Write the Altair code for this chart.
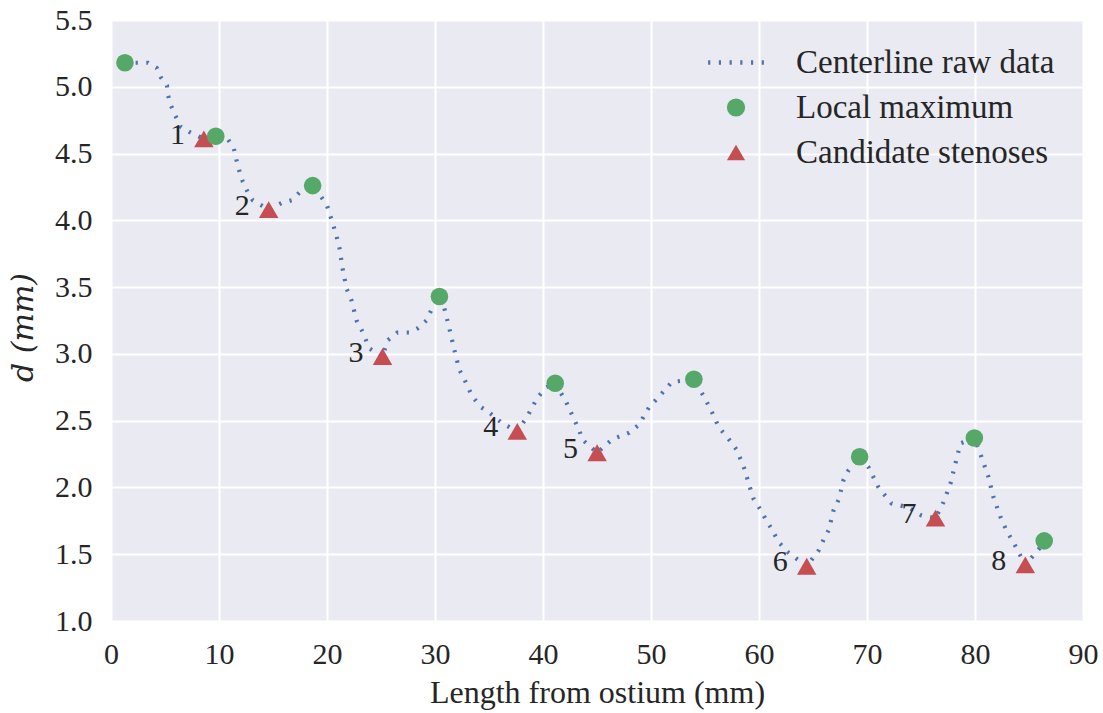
import altair as alt
import pandas as pd

# Centerline diameter profile along the vessel (mm)
line_x = [1.29, 2.40, 3.42, 4.25, 4.62, 5.18, 5.27, 5.55, 5.92, 6.47, 7.30, 8.60,
          9.70, 10.72, 11.37, 11.65, 11.92, 12.20, 12.66, 13.12, 14.60, 15.80, 16.73,
          17.47, 18.67, 19.96, 20.52, 20.89, 21.16, 21.44, 21.81, 22.27, 22.74, 23.20,
          23.94, 25.14, 25.60, 26.52, 27.63, 28.37, 29.21, 29.67, 30.41, 30.87, 31.33,
          31.79, 32.26, 32.72, 33.46, 34.29, 35.03, 36.23, 37.62, 38.54, 39.46, 40.30,
          41.13, 42.14, 42.88, 43.35, 43.62, 45.01, 46.40, 47.97, 48.89, 49.82, 50.74,
          51.94, 53.97, 54.90, 55.55, 56.28, 57.21, 57.95, 58.60, 59.24, 59.52, 60.17,
          60.63, 61.09, 61.83, 62.75, 64.42, 65.53, 65.99, 66.45, 66.91, 67.38, 67.84,
          68.30, 69.32, 70.15, 71.07, 72.27, 73.84, 75.05, 76.34, 77.08, 77.73, 78.19,
          78.65, 79.94, 80.59, 81.24, 81.70, 82.35, 82.90, 83.55, 84.66, 86.04, 86.41]
line_y = [5.18, 5.18, 5.18, 5.14, 5.07, 5.01, 4.94, 4.86, 4.79, 4.70, 4.66, 4.61,
          4.63, 4.62, 4.54, 4.44, 4.36, 4.29, 4.21, 4.15, 4.08, 4.13, 4.15,
          4.21, 4.26, 4.12, 3.98, 3.88, 3.79, 3.64, 3.49, 3.40, 3.25, 3.18,
          3.04, 2.98, 3.10, 3.16, 3.16, 3.19, 3.25, 3.33, 3.43, 3.34, 3.19,
          3.03, 2.88, 2.81, 2.68, 2.60, 2.56, 2.48, 2.42, 2.53, 2.67, 2.75,
          2.78, 2.64, 2.51, 2.43, 2.36, 2.26, 2.36, 2.41, 2.47, 2.60, 2.68,
          2.79, 2.81, 2.68, 2.58, 2.45, 2.36, 2.28, 2.15, 1.98, 1.91, 1.83,
          1.76, 1.70, 1.59, 1.51, 1.41, 1.53, 1.61, 1.68, 1.83, 1.91, 2.06,
          2.13, 2.23, 2.15, 2.00, 1.88, 1.85, 1.79, 1.77, 1.89, 2.03, 2.18,
          2.33, 2.37, 2.23, 2.08, 1.93, 1.78, 1.68, 1.59, 1.42, 1.55, 1.60]

# Local maxima of the profile
max_x = [1.29, 9.70, 18.67, 30.41, 41.13, 53.97, 69.32, 79.94, 86.41]
max_y = [5.18, 4.63, 4.26, 3.43, 2.78, 2.81, 2.23, 2.37, 1.60]

# Candidate stenoses (local minima) and their numbering
sten_x = [8.60, 14.60, 25.14, 37.62, 45.01, 64.42, 76.34, 84.66]
sten_y = [4.61, 4.08, 2.98, 2.42, 2.26, 1.41, 1.77, 1.42]
sten_labels = ["1", "2", "3", "4", "5", "6", "7", "8"]

x_ticks = [0, 10, 20, 30, 40, 50, 60, 70, 80, 90]
y_ticks = [1.0, 1.5, 2.0, 2.5, 3.0, 3.5, 4.0, 4.5, 5.0, 5.5]

series_names = ["Centerline raw data", "Local maximum", "Candidate stenoses"]
series_colors = ["#4C72B0", "#55A868", "#C44E52"]

# Legend swatch for the dotted line: a row of short dashes in symbol units
dot_centers = [-2.95, -1.77, -0.59, 0.59, 1.77, 2.95]
dotted_path = " ".join(
    f"M{c - 0.12:.2f},-0.24H{c + 0.12:.2f}V0.24H{c - 0.12:.2f}Z" for c in dot_centers
)
series_shapes = [dotted_path, "circle", "triangle-up"]

FONT = "Liberation Serif"
TEXT = "#262626"

line_df = pd.DataFrame({"x": line_x, "y": line_y})
max_df = pd.DataFrame({"x": max_x, "y": max_y, "series": series_names[1]})
sten_df = pd.DataFrame({"x": sten_x, "y": sten_y, "series": series_names[2],
                        "label": sten_labels})

x_enc = alt.X("x:Q",
              scale=alt.Scale(domain=[0, 90], nice=False, zero=False),
              axis=alt.Axis(values=x_ticks, title="Length from ostium (mm)",
                            labelFlush=False, labelPadding=18, titlePadding=8,
                            titleFontSize=32))
y_enc = alt.Y("y:Q",
              scale=alt.Scale(domain=[1.0, 5.5], nice=False, zero=False),
              axis=alt.Axis(values=y_ticks, format=".1f", title="d (mm)",
                            labelFlush=False, labelPadding=19, titlePadding=16,
                            titleY=307, titleFont="DejaVu Serif",
                            titleFontStyle="italic", titleFontSize=30))

legend = alt.Legend(title=None, orient="none", legendX=608.5, legendY=26,
                    symbolSize=330, symbolStrokeWidth=0, symbolOpacity=1,
                    labelFont=FONT, labelFontSize=33, labelColor=TEXT,
                    labelOffset=43.5, labelLimit=500, rowPadding=11, padding=0)
color_enc = alt.Color("series:N",
                      scale=alt.Scale(domain=series_names, range=series_colors),
                      legend=legend)
shape_enc = alt.Shape("series:N",
                      scale=alt.Scale(domain=series_names, range=series_shapes),
                      legend=legend)

raw_line = alt.Chart(line_df).mark_line(
    color=series_colors[0], strokeWidth=4.2, strokeDash=[2.2, 8.5], strokeCap="butt"
).encode(x=x_enc, y=y_enc)

stenoses = alt.Chart(sten_df).mark_point(
    filled=True, opacity=1, size=380, strokeWidth=0
).encode(x=x_enc, y=y_enc, color=color_enc, shape=shape_enc)

maxima = alt.Chart(max_df).mark_point(
    filled=True, opacity=1, size=310, strokeWidth=0
).encode(x=x_enc, y=y_enc, color=color_enc, shape=shape_enc)

numbers = alt.Chart(sten_df).mark_text(
    align="right", baseline="middle", dx=-19, dy=-4,
    font=FONT, fontSize=30, color=TEXT
).encode(x=x_enc, y=y_enc, text="label:N")

chart = alt.layer(raw_line, stenoses, maxima, numbers).properties(
    width=972, height=601,
    autosize=alt.AutoSizeParams(type="none"),
    padding={"left": 111, "top": 20, "right": 20, "bottom": 92},
    background="white",
).configure_view(
    fill="#EAEAF2", stroke="transparent"
).configure_axis(
    grid=True, gridColor="white", gridWidth=2, domain=False, ticks=False,
    labelFont=FONT, labelFontSize=30, labelColor=TEXT,
    titleFont=FONT, titleFontWeight="normal", titleColor=TEXT
)

chart.save("out.html", embed_options={"renderer": "svg", "actions": False})
